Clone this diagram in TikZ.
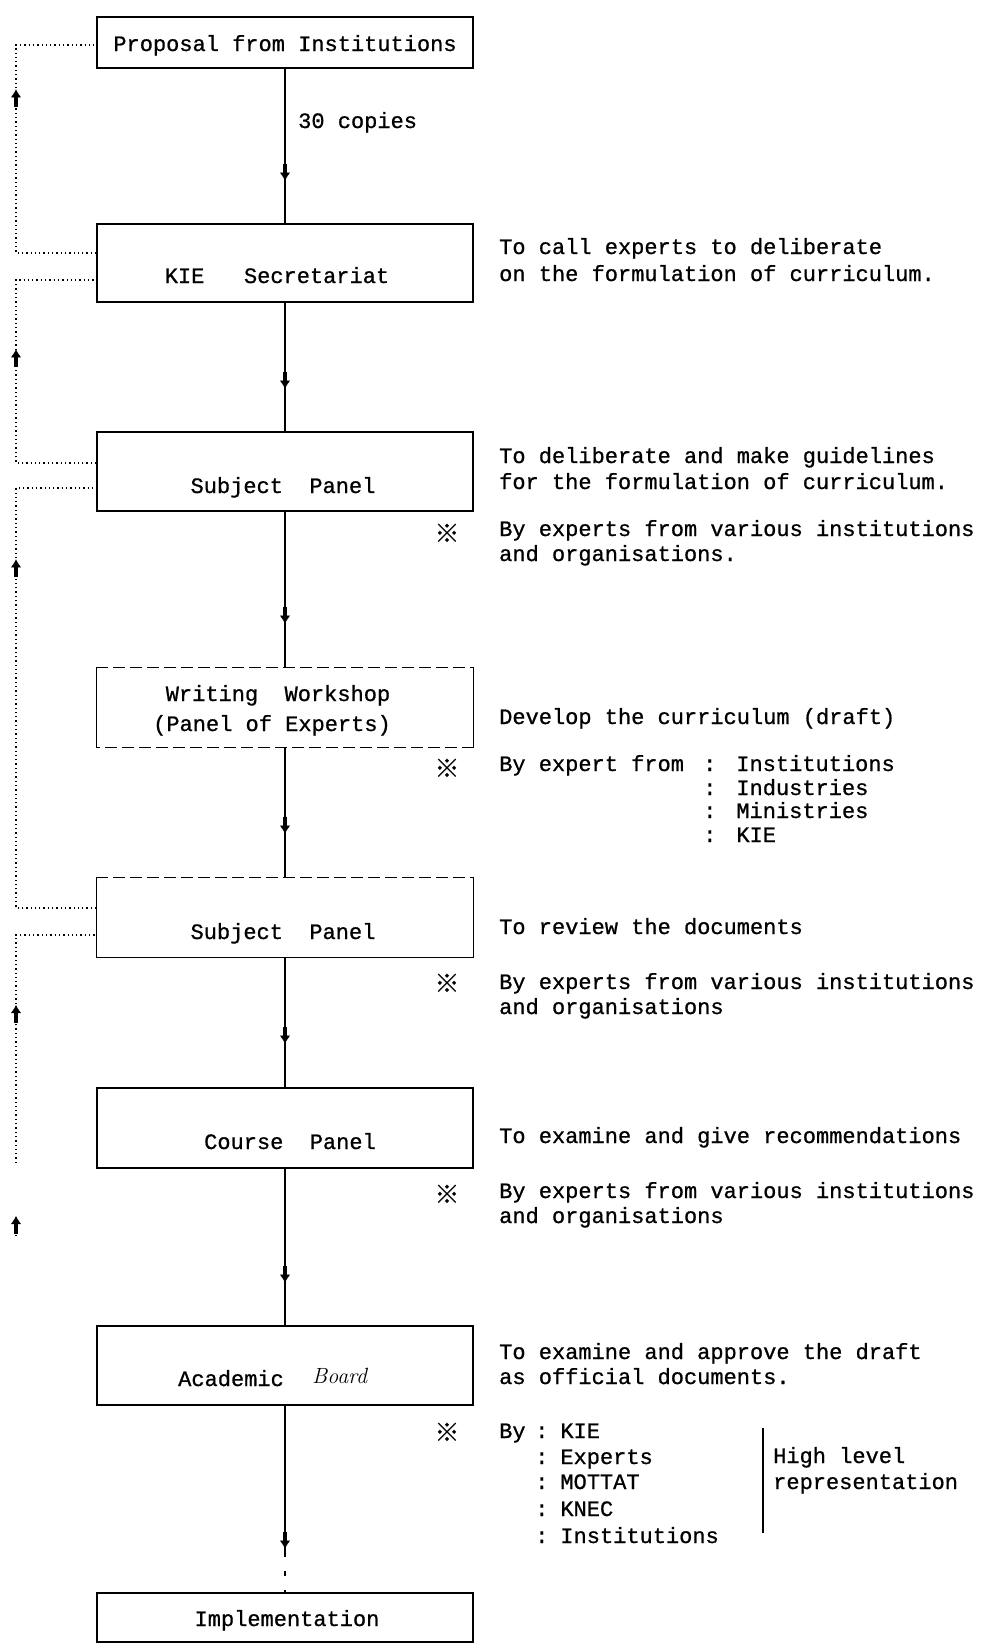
\documentclass[tikz,border=0pt]{standalone}
\usepackage{fontspec}
\newfontfamily\mono{Liberation Mono}[FakeBold=0.8]
\newfontfamily\cjk{Noto Sans CJK JP}[FakeBold=1]
\usetikzlibrary{arrows.meta,decorations.markings}
\begin{document}
\begin{tikzpicture}[x=1pt,y=-1pt,
  box/.style={draw, line width=1.3pt, rectangle, inner sep=0pt, minimum width=376pt},
  boxside/.style={line width=1.3pt},
  boxdash/.style={line width=1.1pt, dash pattern=on 12pt off 5pt},
  lbl/.style={font=\mono\fontsize{22}{26}\selectfont, inner sep=0pt, anchor=base},
  rt/.style={font=\mono\fontsize{22}{26}\selectfont, inner sep=0pt, anchor=base west},
  refm/.style={font=\cjk\fontsize{25}{25}\selectfont, inner sep=0pt},
  mainln/.style={line width=1.3pt},
  flow/.style={postaction={decorate}, decoration={markings, mark=at position #1 with {\draw[solid,line width=4pt,-{Latex[length=8pt,width=10pt,line width=0.5pt]}] (-17pt,0) -- (0pt,0);}}},
  fb/.style={line width=1.2pt, dash pattern=on 1.3pt off 3pt},
  upmark/.style={postaction={decorate}, decoration={markings, mark=at position #1 with {\draw[solid,line width=4.5pt,-{Latex[length=8pt,width=10pt,line width=0.5pt]}] (-18pt,0) -- (0pt,0);}}}
]
\fill[white] (0,0) rectangle (998,1644);
\useasboundingbox (0,0) rectangle (998,1644);

% boxes
\node[box, minimum height=51pt] (b1) at (285,42.5) {};
\node[box, minimum height=78pt] (b2) at (285,263) {};
\node[box, minimum height=79pt] (b3) at (285,471.5) {};
\node[box, draw=none, minimum height=79pt] (b4) at (285,707.5) {};
\node[box, draw=none, minimum height=79pt] (b5) at (285,917.5) {};
\node[box, minimum height=80pt] (b6) at (285,1128) {};
\node[box, minimum height=79pt] (b7) at (285,1365.5) {};
\node[box, minimum height=49pt] (b8) at (285,1617.5) {};

% dashed-edged boxes
\draw[boxdash] (b4.north west) -- (b4.north east);
\draw[boxside] (b4.north east) -- (b4.south east);
\draw[boxdash] (b4.south east) -- (b4.south west);
\draw[boxside] (b4.south west) -- (b4.north west);
\draw[boxdash] (b5.north west) -- (b5.north east);
\draw[boxside] (b5.north east) -- (b5.south east) -- (b5.south west) -- (b5.north west);

% box texts
\node[lbl] (t1) at (285,51) {Proposal from Institutions};
\node[lbl] (t2) at (277,283) {KIE\ \ \ Secretariat};
\node[lbl] (t3) at (283,493) {Subject\ \ Panel};
\node[lbl] (t4a) at (278,701) {Writing\ \ Workshop};
\node[lbl] (t4b) at (272,731) {(Panel of Experts)};
\node[lbl] (t5) at (283,939) {Subject\ \ Panel};
\node[lbl] (t6) at (290,1149) {Course\ \ Panel};
\node[rt] (t7a) at (178,1386) {Academic};
\node[anchor=base west, inner sep=0pt, font=\rmfamily\itshape\fontsize{22}{26}\selectfont] (t7b) at (312,1383) {Board};
\node[lbl] (t8) at (287,1626) {Implementation};
\node[rt] (c30) at (298,128) {30 copies};

% main flow
\draw[mainln, flow=112pt] (b1.south) -- (b2.north);
\draw[mainln, flow=86pt] (b2.south) -- (b3.north);
\draw[mainln, flow=112pt] (b3.south) -- (b4.north);
\draw[mainln, flow=86pt] (b4.south) -- (b5.north);
\draw[mainln, flow=86pt] (b5.south) -- (b6.north);
\draw[mainln, flow=114pt] (b6.south) -- (b7.north);
\coordinate (c7) at (285,1552);
\draw[mainln, flow=143pt] (b7.south) -- (c7);
\draw[mainln, dash pattern=on 5pt off 14pt] (c7) -- (b8.north);

% feedback loops
\coordinate (fA1) at (16,253); \coordinate (fA2) at (16,45);
\draw[fb, upmark=244pt] (b2.west |- fA1) -- (fA1) -- (fA2) -- (b1.west |- fA2);
\coordinate (fB1) at (16,463); \coordinate (fB2) at (16,280);
\draw[fb, upmark=194pt] (b3.west |- fB1) -- (fB1) -- (fB2) -- (b2.west |- fB2);
\coordinate (fC1) at (16,908); \coordinate (fC2) at (16,488);
\draw[fb, upmark=429pt] (b5.west |- fC1) -- (fC1) -- (fC2) -- (b3.west |- fC2);
\coordinate (fD1) at (16,1163); \coordinate (fD2) at (16,935);
\draw[fb, upmark=158pt] (fD1) -- (fD2) -- (b5.west |- fD2);
\coordinate (fE1) at (16,1236); \coordinate (fE2) at (16,1216);
\draw[fb, upmark=20pt] (fE1) -- (fE2);

% right column
\node[rt] (r2a) at (499,254) {To call experts to deliberate};
\node[rt] (r2b) at (499,281) {on the formulation of curriculum.};
\node[rt] (r3a) at (499,463) {To deliberate and make guidelines};
\node[rt] (r3b) at (499,489) {for the formulation of curriculum.};
\node[refm] (s3) at (447,533) {※};
\node[rt] (r3c) at (499,536) {By experts from various institutions};
\node[rt] (r3d) at (499,561) {and organisations.};
\node[rt] (r4a) at (499,724) {Develop the curriculum (draft)};
\node[refm] (s4) at (447,768) {※};
\node[rt] (r4b) at (499,771) {\makebox[204pt][l]{By expert from}:\hspace{20pt}Institutions};
\node[rt] (r4c) at (499,795) {\hspace*{204pt}:\hspace{20pt}Industries};
\node[rt] (r4d) at (499,818) {\hspace*{204pt}:\hspace{20pt}Ministries};
\node[rt] (r4e) at (499,842) {\hspace*{204pt}:\hspace{20pt}KIE};
\node[rt] (r5a) at (499,934) {To review the documents};
\node[refm] (s5) at (447,983) {※};
\node[rt] (r5b) at (499,989) {By experts from various institutions};
\node[rt] (r5c) at (499,1014) {and organisations};
\node[rt] (r6a) at (499,1143) {To examine and give recommendations};
\node[refm] (s6) at (447,1194) {※};
\node[rt] (r6b) at (499,1198) {By experts from various institutions};
\node[rt] (r6c) at (499,1223) {and organisations};
\node[rt] (r7a) at (499,1359) {To examine and approve the draft};
\node[rt] (r7b) at (499,1384) {as official documents.};
\node[refm] (s7) at (447,1432) {※};
\node[rt] (r7c) at (499,1438) {\makebox[36pt][l]{By}:\hspace{12pt}KIE};
\node[rt] (r7d) at (499,1464) {\hspace*{36pt}:\hspace{12pt}Experts};
\node[rt] (r7e) at (499,1489) {\hspace*{36pt}:\hspace{12pt}MOTTAT};
\node[rt] (r7f) at (499,1516) {\hspace*{36pt}:\hspace{12pt}KNEC};
\node[rt] (r7g) at (499,1543) {\hspace*{36pt}:\hspace{12pt}Institutions};
\coordinate (v1) at (763,1428); \coordinate (v2) at (763,1533);
\draw[line width=1.3pt] (v1) -- (v2);
\node[rt] (h1) at (773,1463) {High level};
\node[rt] (h2) at (773,1489) {representation};
\end{tikzpicture}
\end{document}
